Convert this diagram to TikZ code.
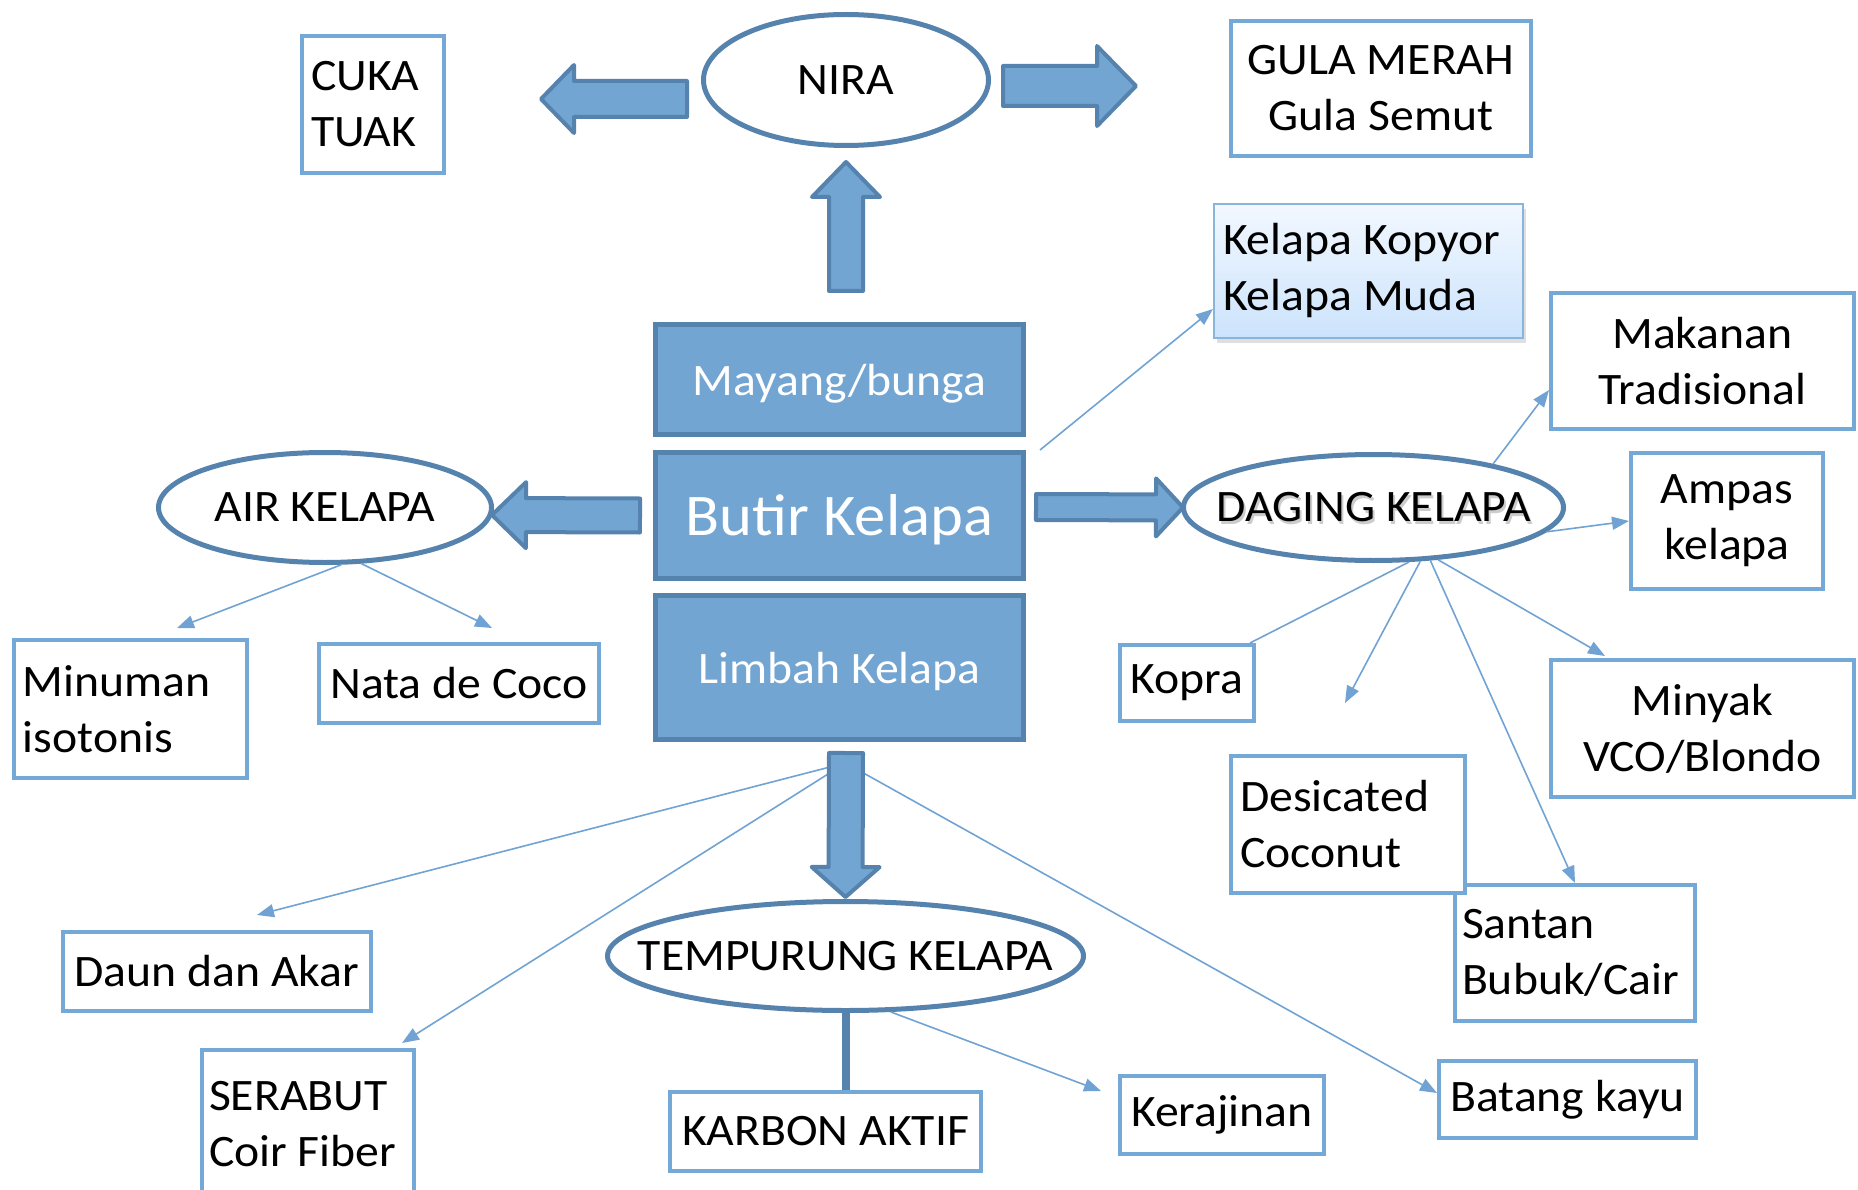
\documentclass[tikz,border=0pt]{standalone}
\usepackage{fontspec}
\setmainfont{Carlito}[FakeStretch=1.06]
\usetikzlibrary{calc,shapes.geometric,arrows.meta,shadows}
\definecolor{fillblue}{RGB}{114,165,210}
\definecolor{edgeblue}{RGB}{86,131,173}
\definecolor{boxblue}{RGB}{116,168,214}
\definecolor{linkblue}{RGB}{112,163,211}
\definecolor{kopyortop}{RGB}{242,248,255}
\definecolor{kopyorbot}{RGB}{204,227,252}
\tikzset{%
    fat/.style={-,draw=edgeblue,fill=fillblue,line width=4pt,line join=round},
    stem/.style={-,draw=edgeblue,line width=8pt}
}
\newcommand{\bigarrow}[5]{%
  \coordinate (ba) at ($(#2)!#5!(#1)$);
  \draw[fat] ($(#1)!#3!90:(#2)$) -- ($(ba)!#3!-90:(#1)$) -- ($(ba)!#4!-90:(#1)$) -- (#2)
    -- ($(ba)!#4!90:(#1)$) -- ($(ba)!#3!90:(#1)$) -- ($(#1)!#3!-90:(#2)$) -- cycle;}

\begin{document}
\begin{tikzpicture}[x=1pt,y=-1pt,
  box/.style={draw=boxblue,line width=4pt,fill=white,inner sep=0pt,align=center,
    font=\fontsize{45}{56}\selectfont},
  lbox/.style={box,align=flush left,text width=#1},
  part/.style={draw=edgeblue,line width=5pt,fill=fillblue,text=white,inner sep=0pt,
    minimum width=368,text depth=0pt,font=\fontsize{45}{56}\selectfont},
  oval/.style={ellipse,draw=edgeblue,line width=5pt,fill=white,inner xsep=-90pt,inner ysep=0pt,
    font=\fontsize{45}{56}\selectfont},
  link/.style={color=linkblue,line width=1.6pt,-{Triangle[length=17pt,width=13pt]}}]

  \useasboundingbox (0,0) rectangle (1858,1190);

  \node[lbox=124,minimum width=142,minimum height=137] (cuka) at (373,104.5) {CUKA\\TUAK};
  \node[oval,minimum width=285,minimum height=131] (nira) at (846,80) {NIRA};
  \node[box,minimum width=300,minimum height=135] (gula) at (1381,88.5) {GULA MERAH\\Gula Semut};
  \node[lbox=291,minimum width=309,minimum height=134,draw=boxblue!85,line width=2pt,
    top color=kopyortop,bottom color=kopyorbot,
    drop shadow={shadow xshift=3pt,shadow yshift=-5pt,opacity=0.25}] (kopyor) at (1368.5,271) {Kelapa Kopyor\\Kelapa Muda};
  \node[box,minimum width=303,minimum height=136] (makanan) at (1702.5,361) {Makanan\\Tradisional};
  \node[box,minimum width=192,minimum height=136] (ampas) at (1727,521) {Ampas\\kelapa};

  \node[part,minimum height=110] (mayang) at (839.5,379.5) {Mayang/bunga};
  \node[part,minimum height=126,font=\fontsize{59}{70}\selectfont] (butir) at (839.5,515.5) {Butir Kelapa};
  \node[part,minimum height=144] (limbah) at (839.5,667.5) {Limbah Kelapa};

  \node[oval,minimum width=333,minimum height=110] (air) at (325,507.5) {AIR KELAPA};
  \node[oval,minimum width=380,minimum height=106] (daging) at (1373.5,507.5)
    {\makebox[0pt][l]{\hspace{2pt}\raisebox{-3pt}[0pt][0pt]{\color{black!20}DAGING KELAPA}}DAGING KELAPA};
  \node[lbox=215,minimum width=233,minimum height=138] (minuman) at (130.5,709) {Minuman\\isotonis};
  \node[box,minimum width=280,minimum height=79] (nata) at (459,683.5) {Nata de Coco};

  \node[oval,minimum width=476,minimum height=109] (tempurung) at (845.5,956) {TEMPURUNG KELAPA};
  \node[box,minimum width=311,minimum height=79] (karbon) at (825.5,1131.5) {KARBON AKTIF};
  \node[box,minimum width=308,minimum height=79] (daun) at (217,971.5) {Daun dan Akar};
  \node[lbox=198,minimum width=212,minimum height=148] (serabut) at (308,1124) {SERABUT\\Coir Fiber};
  \node[box,minimum width=204,minimum height=78] (kerajinan) at (1222,1115) {Kerajinan};
  \node[box,minimum width=257,minimum height=77] (batang) at (1567.5,1099.5) {Batang kayu};

  \node[box,minimum width=134,minimum height=76] (kopra) at (1187,683) {Kopra};
  \node[lbox=226,minimum width=240,minimum height=136] (santan) at (1575,953) {Santan\\Bubuk/Cair};
  \node[lbox=216,minimum width=234,minimum height=137] (desicated) at (1348,824.5) {Desicated\\Coconut};
  \node[box,minimum width=303,minimum height=137] (minyak) at (1702.5,728.5) {Minyak\\VCO/Blondo};

  \coordinate (loose) at ([xshift=-3pt,yshift=51pt]desicated.north);
  \coordinate (hub) at ([xshift=6pt,yshift=-21pt]limbah.south);

  \path[link]
    ([xshift=14pt]butir.north east) edge ([yshift=-38pt]kopyor.west)
    (daging.20) edge ([yshift=-29pt]makanan.west)
    (daging.-8) edge (ampas.west)
    (daging.-57) edge[-] ([xshift=-6pt]kopra.north east)
    (daging.-49) edge (loose)
    (daging.-43) edge (santan.north)
    (daging.-39) edge ([xshift=56pt,yshift=2pt]minyak.north west)
    (air.-74) edge ([xshift=-72pt,yshift=10pt]minuman.north east)
    (air.-57) edge ([xshift=33pt,yshift=14pt]nata.north)
    (hub) edge ([xshift=40pt,yshift=15pt]daun.north)
    (hub) edge ([xshift=-14pt,yshift=5pt]serabut.north east)
    (hub) edge ([yshift=6.5pt]batang.west)
    (tempurung.-51) edge ([xshift=-17pt,yshift=24pt]kerajinan.west);

  \coordinate (n1) at ([xshift=-14pt,yshift=-19pt]nira.west);
  \coordinate (n2) at ([xshift=95pt,yshift=5.5pt]cuka.east);
  \bigarrow{n1}{n2}{18pt}{34pt}{33pt}
  \coordinate (g1) at ([xshift=12pt,yshift=-6pt]nira.east);
  \coordinate (g2) at ([xshift=-93pt,yshift=2.5pt]gula.west);
  \bigarrow{g1}{g2}{20pt}{40pt}{39pt}
  \coordinate (m1) at ([xshift=6.5pt,yshift=31pt]mayang.north);
  \coordinate (m2) at ([yshift=-14pt]nira.south);
  \bigarrow{m1}{m2}{17pt}{34pt}{35pt}
  \coordinate (a1) at ([xshift=-13pt]butir.west);
  \coordinate (a2) at ([xshift=-2pt,yshift=-7.5pt]air.east);
  \bigarrow{a1}{a2}{17pt}{33pt}{34pt}
  \coordinate (d1) at ([xshift=10pt,yshift=8.5pt]butir.east);
  \coordinate (d2) at ([xshift=2pt]daging.west);
  \bigarrow{d1}{d2}{13pt}{29pt}{27pt}
  \coordinate (t1) at ([xshift=6.5pt,yshift=-11pt]limbah.south);
  \coordinate (t2) at ([yshift=2pt]tempurung.north);
  \bigarrow{t1}{t2}{17pt}{34pt}{30pt}

  \draw[stem] (tempurung.south) -- (tempurung.south |- karbon.north);
\end{tikzpicture}
\end{document}
